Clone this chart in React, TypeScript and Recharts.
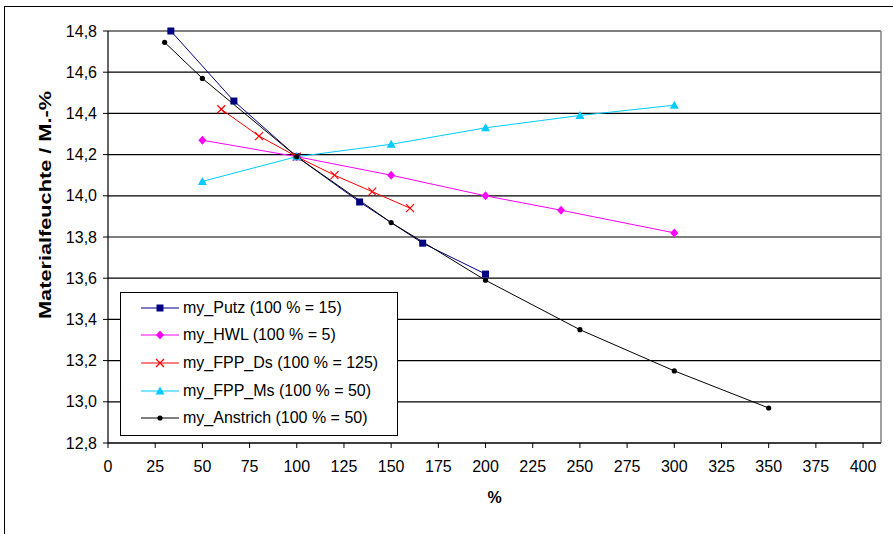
import * as React from 'react';
import {
  LineChart,
  Line,
  XAxis,
  YAxis,
  CartesianGrid,
  ReferenceLine,
  Label,
} from 'recharts';

// x = % of reference value, y = Materialfeuchte in M.-%
const putzX = [33.3, 66.7, 100, 133.3, 166.7, 200];
const putzY = [14.8, 14.46, 14.19, 13.97, 13.77, 13.62];

const hwlX = [50, 100, 150, 200, 240, 300];
const hwlY = [14.27, 14.19, 14.1, 14.0, 13.93, 13.82];

const dsX = [60, 80, 100, 120, 140, 160];
const dsY = [14.42, 14.29, 14.19, 14.1, 14.02, 13.94];

const msX = [50, 100, 150, 200, 250, 300];
const msY = [14.07, 14.19, 14.25, 14.33, 14.39, 14.44];

const anX = [30, 50, 100, 150, 200, 250, 300, 350];
const anY = [14.745, 14.57, 14.19, 13.87, 13.59, 13.35, 13.15, 12.97];

const xTicks = [0, 25, 50, 75, 100, 125, 150, 175, 200, 225, 250, 275, 300, 325, 350, 375, 400];
const yTicks = [12.8, 13.0, 13.2, 13.4, 13.6, 13.8, 14.0, 14.2, 14.4, 14.6, 14.8];

const FONT = 'Arial, "Liberation Sans", sans-serif';

type Shape = 'square' | 'diamond' | 'cross' | 'triangle' | 'circle';

function marker(shape: Shape, color: string, cx: number, cy: number, key?: React.Key) {
  switch (shape) {
    case 'square':
      return <rect key={key} x={cx - 3.5} y={cy - 3.5} width={7} height={7} fill={color} />;
    case 'diamond':
      return (
        <polygon
          key={key}
          points={`${cx},${cy - 4.5} ${cx + 4},${cy} ${cx},${cy + 4.5} ${cx - 4},${cy}`}
          fill={color}
        />
      );
    case 'cross':
      return (
        <g key={key} stroke={color} strokeWidth={1.2}>
          <line x1={cx - 4} y1={cy - 4} x2={cx + 4} y2={cy + 4} />
          <line x1={cx - 4} y1={cy + 4} x2={cx + 4} y2={cy - 4} />
        </g>
      );
    case 'triangle':
      return (
        <polygon
          key={key}
          points={`${cx},${cy - 4.5} ${cx + 4.5},${cy + 3.5} ${cx - 4.5},${cy + 3.5}`}
          fill={color}
        />
      );
    default:
      return <circle key={key} cx={cx} cy={cy} r={2.6} fill={color} />;
  }
}

const zip = (xs: number[], ys: number[]) => xs.map((x, i) => ({ x, y: ys[i] }));

const series = [
  { name: 'my_Putz (100 % = 15)', color: '#000080', shape: 'square' as Shape, data: zip(putzX, putzY) },
  { name: 'my_HWL (100 % = 5)', color: '#FF00FF', shape: 'diamond' as Shape, data: zip(hwlX, hwlY) },
  { name: 'my_FPP_Ds (100 % = 125)', color: '#FF0000', shape: 'cross' as Shape, data: zip(dsX, dsY) },
  { name: 'my_FPP_Ms (100 % = 50)', color: '#00CCFF', shape: 'triangle' as Shape, data: zip(msX, msY) },
  { name: 'my_Anstrich (100 % = 50)', color: '#000000', shape: 'circle' as Shape, data: zip(anX, anY) },
];

const fmt = (v: number) => v.toFixed(1).replace('.', ',');

function YTitle(props: any) {
  const { viewBox } = props;
  const cx = 45;
  const cy = viewBox ? viewBox.y + viewBox.height / 2 - 32 : 205;
  return (
    <text
      x={cx}
      y={cy}
      transform={`rotate(-90 ${cx} ${cy})`}
      textAnchor="middle"
      dominantBaseline="central"
      fontFamily={FONT}
      fontWeight="bold"
      fontSize={17}
      textLength={228}
      lengthAdjust="spacingAndGlyphs"
      fill="#000"
    >
      Materialfeuchte / M.-%
    </text>
  );
}

export default function App() {
  return (
    <div
      style={{
        position: 'absolute',
        left: 0,
        top: 0,
        width: 893,
        height: 534,
        overflow: 'hidden',
        background: '#fff',
      }}
    >
      <div
        style={{
          position: 'absolute',
          left: 4,
          top: 6,
          width: 1000,
          height: 700,
          border: '1.5px solid #000',
        }}
      />
      <div style={{ position: 'absolute', left: 0, top: 0 }}>
        <LineChart width={893} height={534} margin={{ top: 31, right: 12, bottom: 51, left: 0 }}>
          <CartesianGrid horizontal vertical={false} stroke="#000" strokeWidth={1.2} />
          <XAxis
            type="number"
            dataKey="x"
            domain={[0, 409.5]}
            ticks={xTicks}
            interval={0}
            height={40}
            allowDuplicatedCategory={false}
            axisLine={{ stroke: '#000', strokeWidth: 1.2 }}
            tickLine={{ stroke: '#000' }}
            tickSize={5}
            tickMargin={13}
            tick={{ fontSize: 16, fill: '#000', fontFamily: FONT }}
          >
            <Label
              value="%"
              position="bottom"
              offset={9}
              style={{ fontSize: 16, fontWeight: 'bold', fill: '#000', fontFamily: FONT }}
            />
          </XAxis>
          <YAxis
            type="number"
            dataKey="y"
            domain={[12.8, 14.8]}
            ticks={yTicks}
            interval={0}
            width={108}
            axisLine={{ stroke: '#000', strokeWidth: 1.2 }}
            tickLine={{ stroke: '#000' }}
            tickSize={5}
            tickMargin={6}
            tickFormatter={fmt}
            tick={{ fontSize: 16, fill: '#000', fontFamily: FONT }}
          >
            <Label content={<YTitle />} />
          </YAxis>
          <ReferenceLine y={14.8} stroke="#808080" strokeWidth={1.5} />
          <ReferenceLine x={409.5} stroke="#808080" strokeWidth={1.5} />
          {series.map((s) => (
            <Line
              key={s.name}
              data={s.data}
              dataKey="y"
              name={s.name}
              type="linear"
              stroke={s.color}
              strokeWidth={1}
              isAnimationActive={false}
              dot={(p: any) => marker(s.shape, s.color, p.cx, p.cy, `${s.name}-${p.index}`)}
              activeDot={false}
            />
          ))}
        </LineChart>
      </div>
      <div
        style={{
          position: 'absolute',
          left: 120,
          top: 292,
          width: 276,
          height: 141,
          border: '1.5px solid #000',
          background: '#fff',
          fontFamily: FONT,
          fontSize: 16,
          color: '#000',
          paddingTop: 1,
        }}
      >
        {series.map((s) => (
          <div key={s.name} style={{ height: 27.6, display: 'flex', alignItems: 'center' }}>
            <svg width={62} height={14} style={{ marginLeft: 20 }}>
              <line x1={0} y1={7} x2={38} y2={7} stroke={s.color} strokeWidth={1.2} />
              {marker(s.shape, s.color, 19, 7)}
            </svg>
            <span style={{ marginLeft: -20, whiteSpace: 'nowrap' }}>{s.name}</span>
          </div>
        ))}
      </div>
    </div>
  );
}
